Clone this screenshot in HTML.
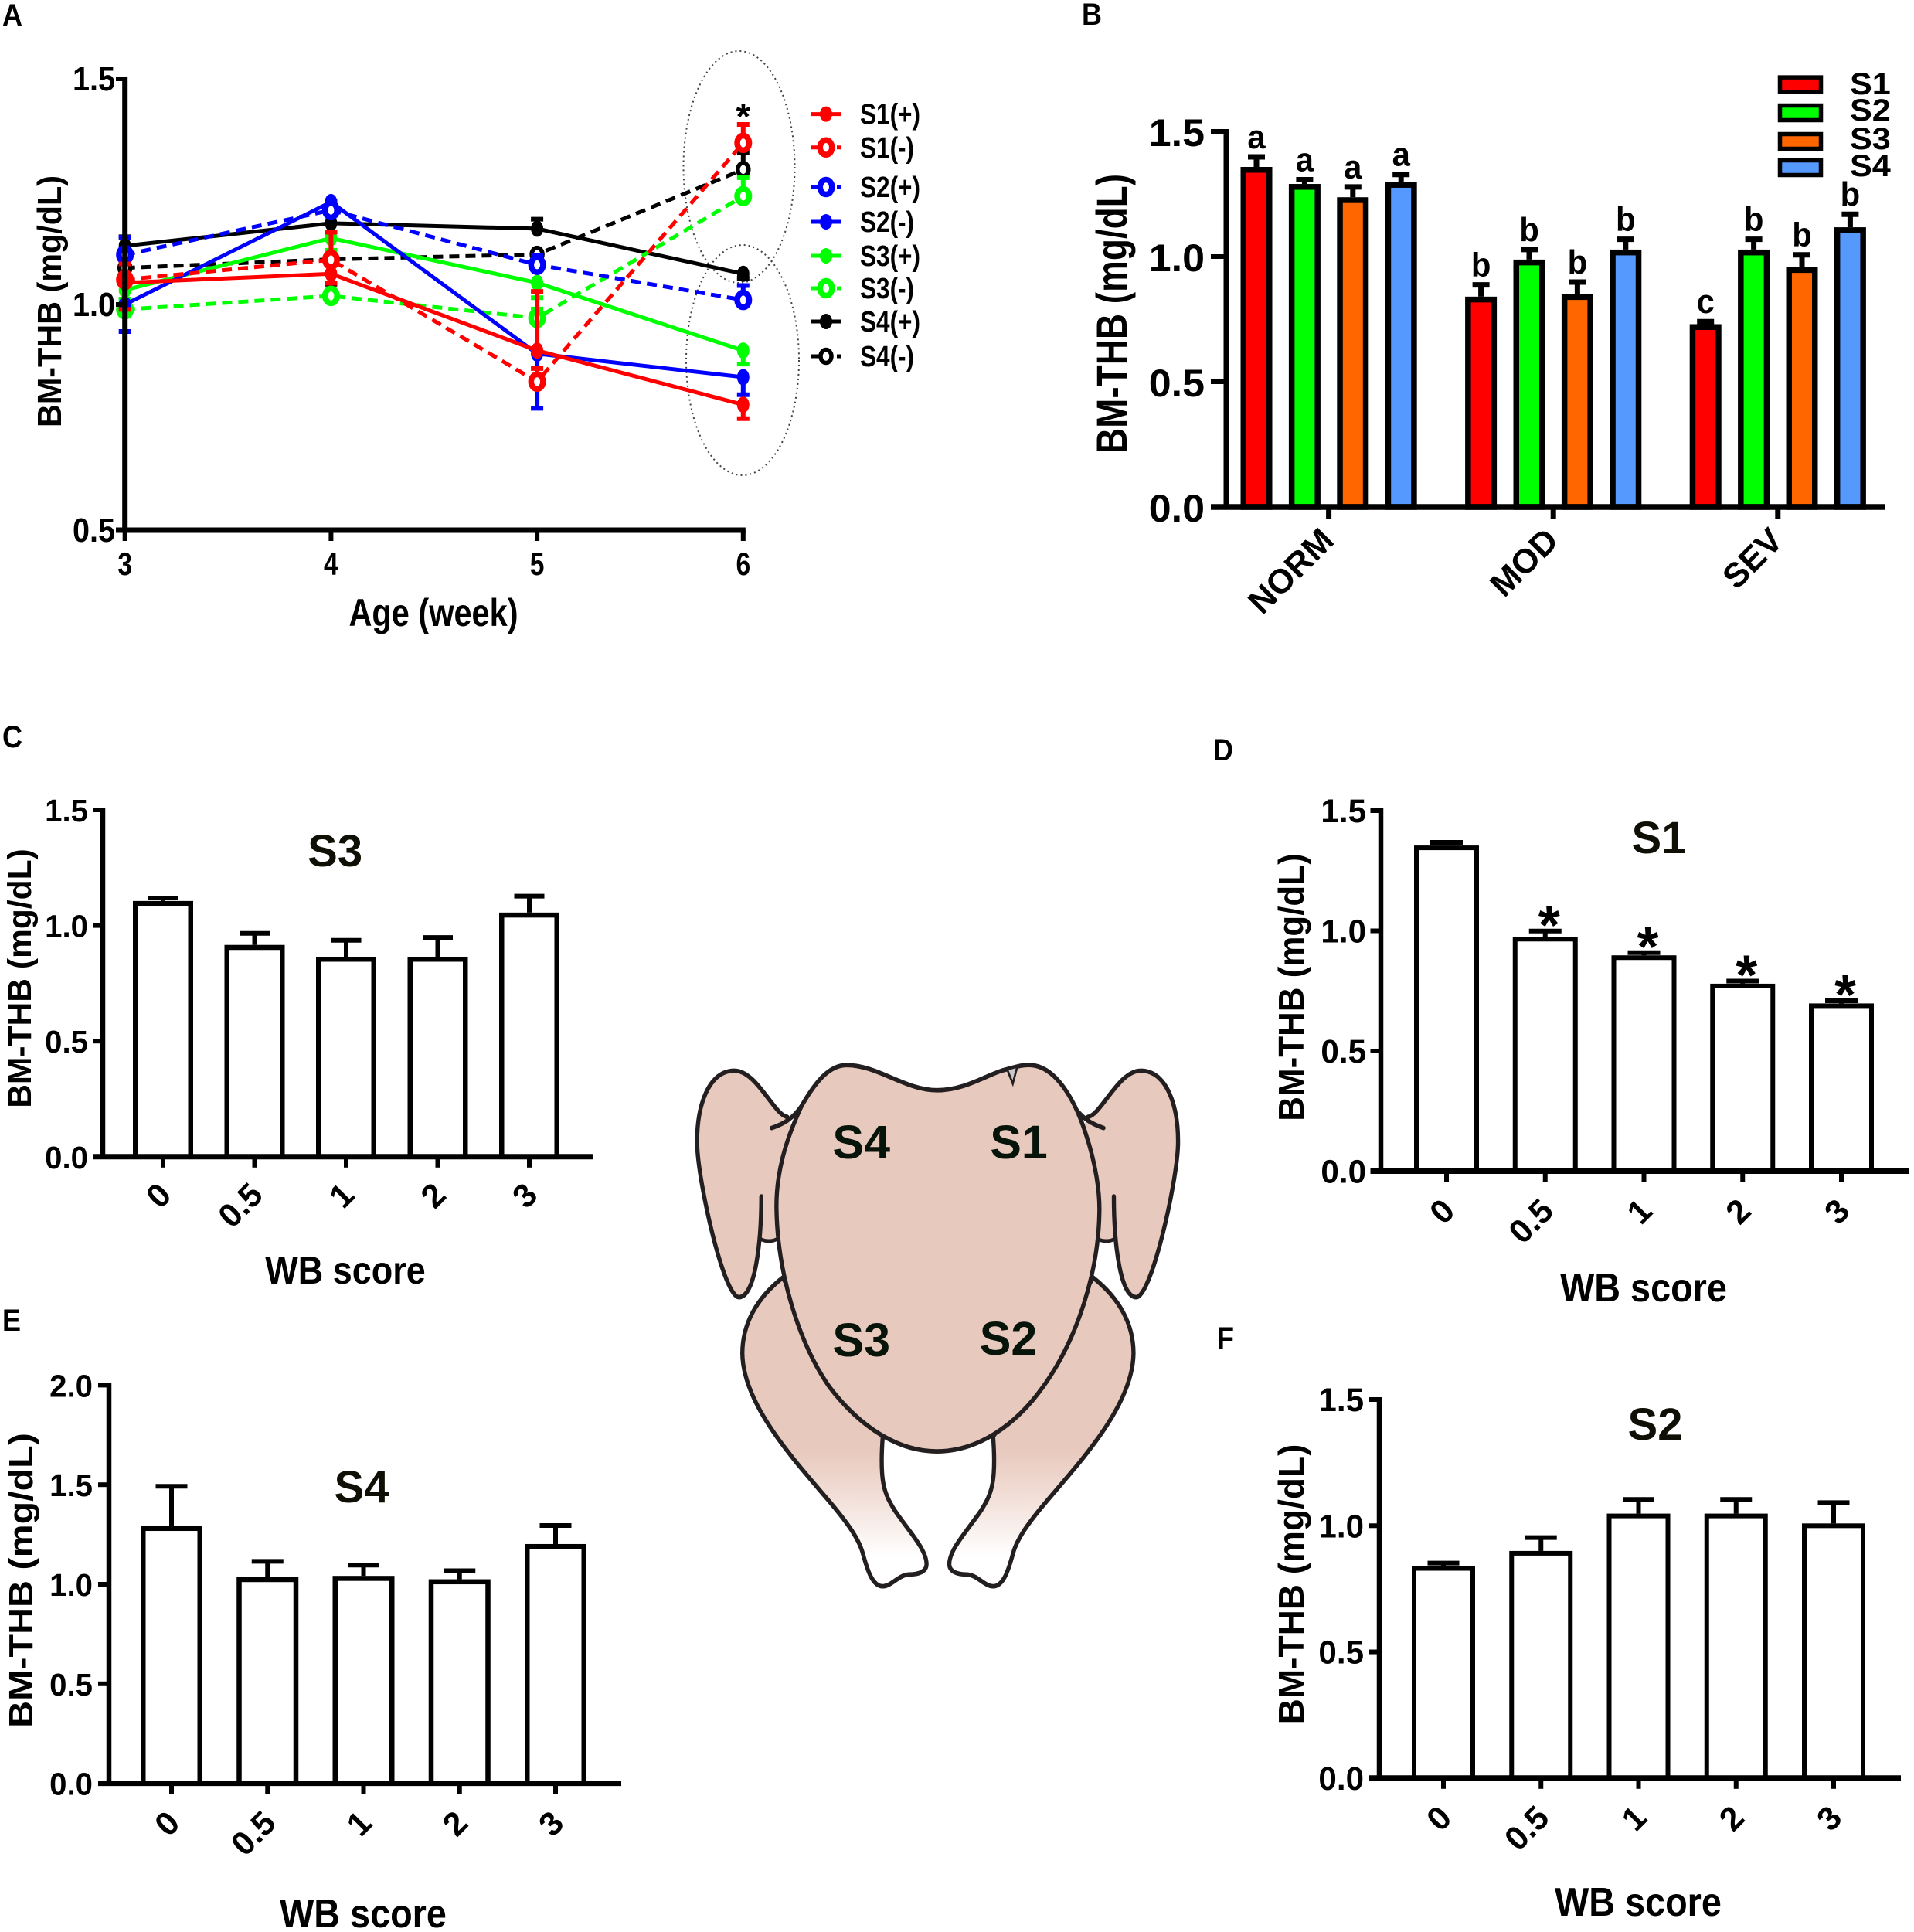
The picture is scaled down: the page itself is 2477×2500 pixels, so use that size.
<!DOCTYPE html>
<html lang="en">
<head>
<meta charset="utf-8">
<title>BM-THB chart panels</title>
<style>
html,body{margin:0;padding:0;background:#fff;}
svg{display:block;}
text{font-family:"Liberation Sans",Arial,sans-serif;font-weight:bold;fill:#000;}
</style>
</head>
<body>
<svg id="fig" xmlns="http://www.w3.org/2000/svg" width="2477" height="2500" viewBox="0 0 2477 2500">
  <rect x="0" y="0" width="2477" height="2500" fill="#fff"/>
  <defs>
    <linearGradient id="legFade" gradientUnits="userSpaceOnUse" x1="0" y1="1120" x2="0" y2="1410">
      <stop offset="0" stop-color="#e8c9bd"/>
      <stop offset="0.45" stop-color="#f2dfd8"/>
      <stop offset="1" stop-color="#ffffff"/>
    </linearGradient>
  </defs>
  <g id="chicken" transform="translate(850,1340) scale(0.4464,0.4783)">
    <g>
      <path fill="url(#legFade)" stroke="#231f20" stroke-width="12" d="M365 655 C290 710 248 780 248 860 C250 1000 400 1150 500 1260 C550 1315 585 1360 597 1400 C610 1445 625 1490 655 1490 C680 1490 700 1460 730 1458 C760 1458 782 1450 782 1430 C782 1390 730 1340 690 1285 C660 1240 645 1210 655 1085 L520 900 Z"/>
    </g>
    <g transform="translate(1630,0) scale(-1,1)">
      <path fill="url(#legFade)" stroke="#231f20" stroke-width="12" d="M365 655 C290 710 248 780 248 860 C250 1000 400 1150 500 1260 C550 1315 585 1360 597 1400 C610 1445 625 1490 655 1490 C680 1490 700 1460 730 1458 C760 1458 782 1450 782 1430 C782 1390 730 1340 690 1285 C660 1240 645 1210 655 1085 L520 900 Z"/>
    </g>
    <g>
      <path fill="#e8c9bd" stroke="none" d="M378 220 C340 215 290 95 225 95 C150 95 115 190 117 295 C120 400 195 708 238 708 C285 708 297 620 300 550 C315 558 335 558 350 550 L420 300 Z"/>
      <path fill="none" stroke="#231f20" stroke-width="12" stroke-linecap="round" d="M378 220 C340 215 290 95 225 95 C150 95 115 190 117 295 C120 400 195 708 238 708 C285 708 303 560 303 435"/>
      <path fill="none" stroke="#231f20" stroke-width="10" d="M300 550 C315 558 335 558 350 550"/>
      <path fill="none" stroke="#231f20" stroke-width="12" stroke-linecap="round" d="M333 250 C365 240 395 225 420 190"/>
    </g>
    <g transform="translate(1628,0) scale(-1,1)">
      <path fill="#e8c9bd" stroke="none" d="M378 220 C340 215 290 95 225 95 C150 95 115 190 117 295 C120 400 195 708 238 708 C285 708 297 620 300 550 C315 558 335 558 350 550 L420 300 Z"/>
      <path fill="none" stroke="#231f20" stroke-width="12" stroke-linecap="round" d="M378 220 C340 215 290 95 225 95 C150 95 115 190 117 295 C120 400 195 708 238 708 C285 708 303 560 303 435"/>
      <path fill="none" stroke="#231f20" stroke-width="10" d="M300 550 C315 558 335 558 350 550"/>
      <path fill="none" stroke="#231f20" stroke-width="12" stroke-linecap="round" d="M333 250 C365 240 395 225 420 190"/>
    </g>
    <path fill="#e8c9bd" stroke="#231f20" stroke-width="12" d="M550 80 C640 80 720 148 812 148 C890 148 950 110 1000 95 C1040 85 1060 78 1085 80 C1160 85 1215 180 1245 270 C1270 340 1285 420 1283 480 C1280 640 1220 820 1120 950 C1040 1055 930 1125 812 1125 C700 1125 590 1060 500 950 C410 830 350 640 347 470 C345 370 375 280 420 190 C460 125 500 80 550 80 Z"/>
    <path fill="#c9c9c9" stroke="#231f20" stroke-width="6" d="M1016 92 L1032 130 L1045 84 Z"/>
  </g>
</svg>
<script>
// ---------- Panel A data ----------
const weeks = [3, 4, 5, 6];
const aTicks = [0.5, 1.0, 1.5];
const s1Plus = [1.048, 1.068, 0.898, 0.778];
const s1PlusErr = [-0.059, -0.021, 0.131, -0.031];
const s1Minus = [1.055, 1.099, 0.829, 1.358];
const s1MinusErr = [0.035, 0.061, 0.029, 0.041];
const s2Plus = [1.11, 1.209, 1.088, 1.01];
const s2PlusErr = [0.039, 0.02, 0.02, 0.032];
const s2Minus = [1.0, 1.227, 0.891, 0.839];
const s2MinusErr = [-0.06, -0.02, -0.121, -0.039];
const s3Plus = [1.032, 1.147, 1.048, 0.898];
const s3PlusErr = [-0.02, -0.027, -0.033, -0.03];
const s3Minus = [0.989, 1.019, 0.97, 1.24];
const s3MinusErr = [0.02, 0.01, 0.02, 0.041];
const s4Plus = [1.13, 1.18, 1.168, 1.068];
const s4PlusErr = [0.02, -0.02, 0.021, -0.01];
const s4Minus = [1.081, 1.1, 1.111, 1.299];
const s4MinusErr = [0.02, -0.055, -0.02, 0.038];
const aLegendLabels = ['S1(+)', 'S1(-)', 'S2(+)', 'S2(-)', 'S3(+)', 'S3(-)', 'S4(+)', 'S4(-)'];

// ---------- Panel B data ----------
const severityGroups = ['NORM', 'MOD', 'SEV'];
const bTicks = [0, 0.5, 1.0, 1.5];
const bS1 = [1.358, 0.84, 0.73];
const bS1Err = [0.04, 0.047, 0.01];
const bS1Letters = ['a', 'b', 'c'];
const bS2 = [1.29, 0.988, 1.028];
const bS2Err = [0.017, 0.04, 0.041];
const bS2Letters = ['a', 'b', 'b'];
const bS3 = [1.237, 0.85, 0.958];
const bS3Err = [0.041, 0.048, 0.049];
const bS3Letters = ['a', 'b', 'b'];
const bS4 = [1.298, 1.028, 1.117];
const bS4Err = [0.03, 0.041, 0.052];
const bS4Letters = ['a', 'b', 'b'];
const bLegendLabels = ['S1', 'S2', 'S3', 'S4'];

// ---------- WB-score panels data ----------
const wbScores = ['0', '0.5', '1', '2', '3'];
const ticks15 = [0, 0.5, 1.0, 1.5];
const ticks20 = [0, 0.5, 1.0, 1.5, 2.0];
const valuesS3 = [1.106, 0.916, 0.865, 0.865, 1.056];
const errorsS3 = [0.013, 0.05, 0.071, 0.083, 0.071];
const valuesS1 = [1.355, 0.975, 0.898, 0.78, 0.698];
const errorsS1 = [0.013, 0.024, 0.011, 0.011, 0.011];
const starsS1 = ['', '*', '*', '*', '*'];
const valuesS4 = [1.293, 1.036, 1.042, 1.025, 1.202];
const errorsS4 = [0.199, 0.079, 0.054, 0.043, 0.093];
const valuesS2 = [0.84, 0.9, 1.048, 1.048, 1.009];
const errorsS2 = [0.012, 0.053, 0.056, 0.056, 0.0825];
const noStars = ['', '', '', '', ''];

const NS = 'http://www.w3.org/2000/svg';
const fig = document.getElementById('fig');

function mk(parent, tag, attrs) {
  const e = document.createElementNS(NS, tag);
  for (const k in attrs) e.setAttribute(k, attrs[k]);
  parent.appendChild(e);
  return e;
}
function mkText(parent, str, x, y, size, anchor, sx, rot) {
  const e = mk(parent, 'text', {
    'font-size': size,
    'text-anchor': anchor,
    transform: 'translate(' + x + ',' + y + ') rotate(' + (rot || 0) + ') scale(' + (sx || 1) + ',1)'
  });
  e.textContent = str;
  return e;
}

// ---------- panel letters ----------
const panelLetters = [
  ['A', 3, 33, 40],
  ['B', 1400, 32, 40],
  ['C', 3, 967, 40],
  ['D', 1570, 984, 40],
  ['E', 3, 1722, 40],
  ['F', 1575, 1745, 40]
];
panelLetters.forEach(function (p) {
  const t = mkText(fig, p[0], p[1], p[2], p[3], 'start', 0.9, 0);
  
  
});

// ---------- chicken labels ----------
const chickenLabels = [
  ['S4', 1114.7, 1499],
  ['S1', 1318.5, 1499],
  ['S3', 1114.7, 1755],
  ['S2', 1305, 1753]
];
chickenLabels.forEach(function (c) {
  const t = mkText(fig, c[0], c[1], c[2], 61, 'middle', 1, 0);
  
  
  t.style.fill = '#07140a';
});

// ---------- Panel A ----------
(function () {
  const g = mk(fig, 'g', {});
  
  
  const ax0 = 161.7, aStep = 266.7, ay1 = 394, aPer = 584;
  const xA = function (w) { return ax0 + (w - weeks[0]) * aStep; };
  const yA = function (v) { return ay1 - (v - 1) * aPer; };

  // dotted ellipses
  const e1 = mk(g, 'ellipse', { cx: 956.5, cy: 216, rx: 72, ry: 150, fill: 'none', stroke: '#444', 'stroke-width': 2, 'stroke-dasharray': '2 4' });
  
  
  const e2 = mk(g, 'ellipse', { cx: 961, cy: 466, rx: 73, ry: 149, fill: 'none', stroke: '#444', 'stroke-width': 2, 'stroke-dasharray': '2 4' });
  
  

  // series, painted back to front
  const order = [
    { name: 's4-minus', vals: s4Minus, errs: s4MinusErr, color: '#000000', hollow: true, small: true },
    { name: 's4-plus', vals: s4Plus, errs: s4PlusErr, color: '#000000', hollow: false },
    { name: 's3-minus', vals: s3Minus, errs: s3MinusErr, color: '#00ff00', hollow: true },
    { name: 's3-plus', vals: s3Plus, errs: s3PlusErr, color: '#00ff00', hollow: false },
    { name: 's2-minus', vals: s2Minus, errs: s2MinusErr, color: '#0000ff', hollow: false },
    { name: 's2-plus', vals: s2Plus, errs: s2PlusErr, color: '#0000ff', hollow: true },
    { name: 's1-minus', vals: s1Minus, errs: s1MinusErr, color: '#ff0000', hollow: true },
    { name: 's1-plus', vals: s1Plus, errs: s1PlusErr, color: '#ff0000', hollow: false }
  ];
  order.forEach(function (s) {
    const sg = mk(g, 'g', {});
    
    
    const pts = s.vals.map(function (v, i) { return xA(weeks[i]) + ',' + yA(v); }).join(' ');
    const line = mk(sg, 'polyline', { points: pts, fill: 'none', stroke: s.color, 'stroke-width': 5 });
    if (s.hollow) line.setAttribute('stroke-dasharray', '13 8');
    
    
    s.vals.forEach(function (v, i) {
      const cx = xA(weeks[i]), cy = yA(v), ey = yA(v + s.errs[i]);
      const stem = mk(sg, 'line', { x1: cx, x2: cx, y1: cy, y2: ey, stroke: s.color, 'stroke-width': 6 });
      
      
      const cap = mk(sg, 'line', { x1: cx - 8, x2: cx + 8, y1: ey, y2: ey, stroke: s.color, 'stroke-width': 6 });
      
      
      const mark = s.hollow
        ? mk(sg, 'ellipse', { cx: cx, cy: cy, rx: s.small ? 7 : 7.75, ry: s.small ? 8.5 : 9.5, fill: '#fff', stroke: s.color, 'stroke-width': s.small ? 5.5 : 7.5 })
        : mk(sg, 'ellipse', { cx: cx, cy: cy, rx: 8, ry: 10.5, fill: s.color, stroke: 'none' });
      
      
    });
  });

  // axes
  const yAxis = mk(g, 'line', { x1: ax0, x2: ax0, y1: yA(1.5) - 3, y2: yA(0.5) + 3, stroke: '#000', 'stroke-width': 7 });
  
  
  const xAxis = mk(g, 'line', { x1: 150, x2: xA(6) + 3, y1: yA(0.5), y2: yA(0.5), stroke: '#000', 'stroke-width': 7 });
  
  
  aTicks.forEach(function (v) {
    const tk = mk(g, 'line', { x1: 150, x2: ax0, y1: yA(v), y2: yA(v), stroke: '#000', 'stroke-width': 6 });
    
    
    const lb = mkText(g, v.toFixed(1), 149, yA(v) + 15, 44, 'end', 0.9, 0);
    
    
  });
  weeks.forEach(function (w) {
    const tk = mk(g, 'line', { x1: xA(w), x2: xA(w), y1: yA(0.5), y2: yA(0.5) + 14, stroke: '#000', 'stroke-width': 6 });
    
    
    const lb = mkText(g, String(w), xA(w), 744, 42, 'middle', 0.8, 0);
    
    
  });
  const yt = mkText(g, 'BM-THB (mg/dL)', 79, 390, 44, 'middle', 0.94, -90);
  
  
  const xt = mkText(g, 'Age (week)', 561, 810, 50, 'middle', 0.83, 0);
  
  
  const star = mkText(g, '*', xA(6), 167, 48, 'middle', 1, 0);
  
  

  // legend
  const legendColors = ['#ff0000', '#ff0000', '#0000ff', '#0000ff', '#00ff00', '#00ff00', '#000000', '#000000'];
  const legendHollow = [false, true, true, false, false, true, false, true];
  const legendY = [147.6, 190.8, 242, 287, 331, 373, 416, 461];
  aLegendLabels.forEach(function (lab, i) {
    const lg = mk(g, 'g', {});
    
    
    const ly = legendY[i];
    const ln = mk(lg, 'line', { x1: 1049, x2: 1089, y1: ly, y2: ly, stroke: legendColors[i], 'stroke-width': 5 });
    
    
    if (legendHollow[i]) ln.setAttribute('stroke-dasharray', '14 20 6 0');
    const small = i === 7;
    const mark = legendHollow[i]
      ? mk(lg, 'ellipse', { cx: 1069, cy: ly, rx: small ? 7 : 7.75, ry: small ? 8.5 : 9.5, fill: '#fff', stroke: legendColors[i], 'stroke-width': small ? 5.5 : 7.5 })
      : mk(lg, 'ellipse', { cx: 1069, cy: ly, rx: 8, ry: 10, fill: legendColors[i] });
    
    
    const tx = mkText(lg, lab, 1113, ly + 13, 38, 'start', 0.83, 0);
    
    
  });
})();

// ---------- Panel B ----------
(function () {
  const g = mk(fig, 'g', {});
  
  
  const y0 = 656, yTop = 170, axisX = 1587, firstBar = 1626, barStep = 62.4, groupStep = 290.6;
  const yB = function (v) { return y0 - v / 1.5 * (y0 - yTop); };
  const barW = 41, sw = 7.5;
  const series = [
    { name: 's1', vals: bS1, errs: bS1Err, letters: bS1Letters, color: '#ff0000' },
    { name: 's2', vals: bS2, errs: bS2Err, letters: bS2Letters, color: '#00ff00' },
    { name: 's3', vals: bS3, errs: bS3Err, letters: bS3Letters, color: '#ff6600' },
    { name: 's4', vals: bS4, errs: bS4Err, letters: bS4Letters, color: '#5599ff' }
  ];
  series.forEach(function (s, si) {
    s.vals.forEach(function (v, gi) {
      const cx = firstBar + gi * groupStep + si * barStep;
      const ty = yB(v), cy = yB(v + s.errs[gi]);
      const stem = mk(g, 'line', { x1: cx, x2: cx, y1: ty, y2: cy, stroke: '#000', 'stroke-width': 7 });
      
      
      const cap = mk(g, 'line', { x1: cx - 11, x2: cx + 11, y1: cy, y2: cy, stroke: '#000', 'stroke-width': 7 });
      
      
      const bar = mk(g, 'rect', { x: cx - barW / 2 + sw / 2, y: ty + sw / 2, width: barW - sw, height: y0 - ty - sw / 2, fill: s.color, stroke: '#000', 'stroke-width': sw });
      
      
      const let_ = mkText(g, s.letters[gi], cx, cy - 11, 44, 'middle', 0.95, 0);
      
      
    });
  });
  const yAxis = mk(g, 'line', { x1: axisX, x2: axisX, y1: yTop - 3, y2: y0, stroke: '#000', 'stroke-width': 7 });
  
  
  const xAxis = mk(g, 'line', { x1: 1567, x2: 2439, y1: y0, y2: y0, stroke: '#000', 'stroke-width': 7.5 });
  
  
  bTicks.forEach(function (v) {
    const tk = mk(g, 'line', { x1: 1567, x2: axisX, y1: yB(v), y2: yB(v), stroke: '#000', 'stroke-width': 6 });
    
    
    const lb = mkText(g, v.toFixed(1), 1559, yB(v) + 19, 50, 'end', 1.04, 0);
    
    
  });
  severityGroups.forEach(function (name, gi) {
    const tx = firstBar + gi * groupStep + 1.5 * barStep;
    const tk = mk(g, 'line', { x1: tx, x2: tx, y1: y0, y2: y0 + 15, stroke: '#000', 'stroke-width': 7 });
    
    
    const lb = mkText(g, name, tx + 9, y0 + 46, 44, 'end', 1, -45);
    
    
  });
  const yt = mkText(g, 'BM-THB (mg/dL)', 1458, 406, 56, 'middle', 0.82, -90);
  
  

  // legend
  const swatchColors = ['#ff0000', '#00ff00', '#ff6600', '#5599ff'];
  const swatchTop = [97.6, 134, 171, 205];
  const legendBase = [122, 156, 193, 228];
  bLegendLabels.forEach(function (lab, i) {
    const lg = mk(g, 'g', {});
    
    
    const sw2 = mk(lg, 'rect', { x: 2303.5, y: swatchTop[i] + 2.5, width: 53, height: 19, fill: swatchColors[i], stroke: '#000', 'stroke-width': 5.5 });
    
    
    const t = mkText(lg, lab, 2394, legendBase[i], 40, 'start', 1.08, 0);
    
    
  });
})();

// ---------- WB score panels ----------
function wbPanel(c, values, errors, stars, ticks) {
  const g = mk(fig, 'g', {});
  
  
  const yS = function (v) { return c.y0 - v / c.vMax * (c.y0 - c.yTop); };
  values.forEach(function (v, i) {
    const cx = c.firstX + i * c.stepX;
    const ty = yS(v), cy = yS(v + errors[i]);
    const stem = mk(g, 'line', { x1: cx, x2: cx, y1: ty, y2: cy, stroke: '#000', 'stroke-width': 6 });
    
    
    const cap = mk(g, 'line', { x1: cx - c.capW / 2, x2: cx + c.capW / 2, y1: cy, y2: cy, stroke: '#000', 'stroke-width': 6 });
    
    
    const bar = mk(g, 'rect', { x: cx - c.barW / 2 + c.sw / 2, y: ty + c.sw / 2, width: c.barW - c.sw, height: c.y0 - ty - c.sw / 2, fill: '#fff', stroke: '#000', 'stroke-width': c.sw });
    
    
    if (stars[i]) {
      const st = mkText(g, stars[i], cx + 5, cy - 23 + 40, 72, 'middle', 1, 0);
      
      
    }
    const tk = mk(g, 'line', { x1: cx, x2: cx, y1: c.y0, y2: c.y0 + 14, stroke: '#000', 'stroke-width': 6 });
    
    
    const lb = mkText(g, wbScores[i], cx + 13, c.y0 + c.xLabelDrop, 43, 'end', 1, -45);
    
    
  });
  const yAxis = mk(g, 'line', { x1: c.axisX, x2: c.axisX, y1: c.yTop - 3, y2: c.y0, stroke: '#000', 'stroke-width': 6.5 });
  
  
  const xAxis = mk(g, 'line', { x1: c.leftTick, x2: c.xEnd, y1: c.y0, y2: c.y0, stroke: '#000', 'stroke-width': 7 });
  
  
  ticks.forEach(function (v) {
    const tk = mk(g, 'line', { x1: c.leftTick, x2: c.axisX, y1: yS(v), y2: yS(v), stroke: '#000', 'stroke-width': 6 });
    
    
    const lb = mkText(g, v.toFixed(1), c.labelRight, yS(v) + 15, c.tickSize, 'end', c.tickSx, 0);
    
    
  });
  const yt = mkText(g, 'BM-THB (mg/dL)', c.yTitleX, c.yTitleY, c.yTitleSize, 'middle', c.yTitleSx, -90);
  
  
  const xt = mkText(g, 'WB score', c.xTitleX, c.xTitleY, c.xTitleSize, 'middle', 0.9, 0);
  
  
  const tt = mkText(g, c.title, c.titleX, c.titleY, 58, 'middle', 1, 0);
  
  
  tt.style.fill = '#0f0f05';
}

wbPanel({ name: 'panel-c-s3-bar-chart', title: 'S3', y0: 1496.8, yTop: 1048, vMax: 1.5, axisX: 133, leftTick: 120, xEnd: 767, labelRight: 114, tickSize: 41, tickSx: 0.98,
  firstX: 211, stepX: 118.5, barW: 78, sw: 6.5, capW: 39, xLabelDrop: 52,
  yTitleX: 40, yTitleY: 1266, yTitleSize: 43, yTitleSx: 0.99,
  xTitleX: 447, xTitleY: 1661, xTitleSize: 50, titleX: 433.6, titleY: 1121 }, valuesS3, errorsS3, noStars, ticks15);

wbPanel({ name: 'panel-d-s1-bar-chart', title: 'S1', y0: 1515.5, yTop: 1049, vMax: 1.5, axisX: 1787, leftTick: 1773.5, xEnd: 2471, labelRight: 1768, tickSize: 43, tickSx: 0.98,
  firstX: 1872, stepX: 127.75, barW: 84, sw: 6, capW: 42, xLabelDrop: 54,
  yTitleX: 1687, yTitleY: 1277.5, yTitleSize: 46, yTitleSx: 0.955,
  xTitleX: 2127, xTitleY: 1684, xTitleSize: 52, titleX: 2147, titleY: 1104 }, valuesS1, errorsS1, starsS1, ticks15);

wbPanel({ name: 'panel-e-s4-bar-chart', title: 'S4', y0: 2307.6, yTop: 1792.4, vMax: 2.0, axisX: 141, leftTick: 127, xEnd: 804, labelRight: 120, tickSize: 41, tickSx: 0.98,
  firstX: 222, stepX: 124.25, barW: 80, sw: 6.5, capW: 41, xLabelDrop: 54,
  yTitleX: 42, yTitleY: 2045, yTitleSize: 44, yTitleSx: 1.1,
  xTitleX: 470, xTitleY: 2494, xTitleSize: 52, titleX: 468, titleY: 1944 }, valuesS4, errorsS4, noStars, ticks20);

wbPanel({ name: 'panel-f-s2-bar-chart', title: 'S2', y0: 2300.8, yTop: 1811, vMax: 1.5, axisX: 1785, leftTick: 1772, xEnd: 2460, labelRight: 1765, tickSize: 43, tickSx: 0.98,
  firstX: 1868, stepX: 126.25, barW: 82, sw: 6, capW: 41, xLabelDrop: 54,
  yTitleX: 1687, yTitleY: 2050, yTitleSize: 46, yTitleSx: 1.0,
  xTitleX: 2120, xTitleY: 2479, xTitleSize: 52, titleX: 2142, titleY: 1863 }, valuesS2, errorsS2, noStars, ticks15);
</script>
</body>
</html>
